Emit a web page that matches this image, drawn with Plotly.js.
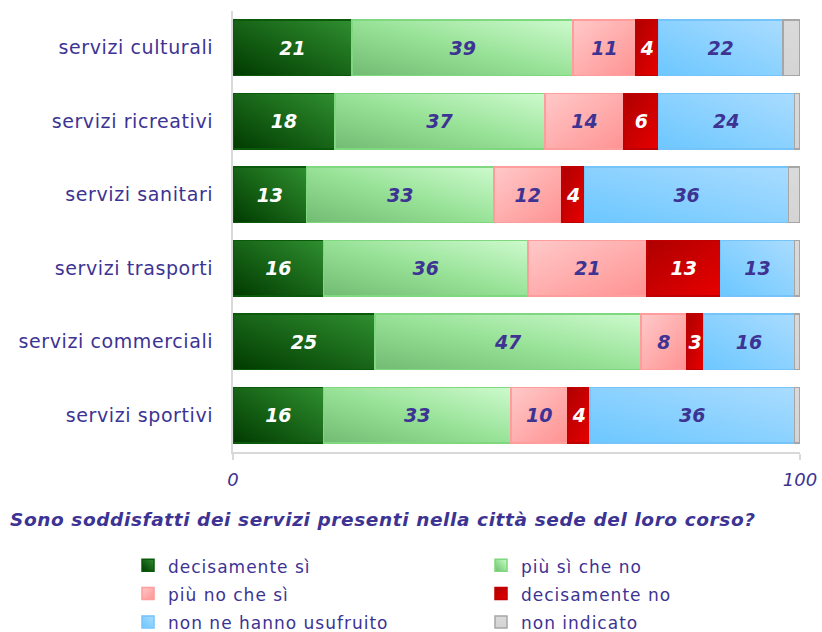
<!DOCTYPE html>
<html>
<head>
<meta charset="utf-8">
<script src="https://cdn.plot.ly/plotly-3.0.1.min.js"></script>
<style>
  html, body { margin: 0; padding: 0; background: #ffffff; }
  #chart { width: 822px; height: 632px; }
  #chart .ytick text { letter-spacing: 0.6px; }
  #chart .gtitle { letter-spacing: 0.6px; }
</style>
</head>
<body>
<!-- gradient fills for the bar segments and legend keys -->
<svg width="0" height="0" style="position:absolute">
  <defs>
    <linearGradient id="fill-0" x1="0" y1="1" x2="1" y2="0">
      <stop offset="0" stop-color="#003a00"/>
      <stop offset="1" stop-color="#2f8f2f"/>
    </linearGradient>
    <linearGradient id="fill-1" x1="0" y1="1" x2="1" y2="0">
      <stop offset="0" stop-color="#72bb72"/>
      <stop offset="0.5" stop-color="#98e298"/>
      <stop offset="1" stop-color="#cdfacd"/>
    </linearGradient>
    <linearGradient id="fill-2" x1="0" y1="0" x2="1" y2="1">
      <stop offset="0" stop-color="#ffc9c9"/>
      <stop offset="1" stop-color="#ff9292"/>
    </linearGradient>
    <linearGradient id="fill-3" x1="0" y1="0" x2="1" y2="1">
      <stop offset="0" stop-color="#ae0000"/>
      <stop offset="1" stop-color="#e80000"/>
    </linearGradient>
    <linearGradient id="fill-4" x1="1" y1="0" x2="0" y2="1">
      <stop offset="0" stop-color="#aadcff"/>
      <stop offset="1" stop-color="#6cc7ff"/>
    </linearGradient>
    <linearGradient id="fill-5" x1="0" y1="0" x2="0" y2="1">
      <stop offset="0" stop-color="#dadada"/>
      <stop offset="1" stop-color="#d4d4d4"/>
    </linearGradient>
  </defs>
</svg>
<div id="chart"></div>
<script>
// Services, top to bottom
const categories = [
  'servizi culturali',
  'servizi ricreativi',
  'servizi sanitari',
  'servizi trasporti',
  'servizi commerciali',
  'servizi sportivi'
];

// Percentages per answer
const decisamenteSi = [21, 18, 13, 16, 25, 16];
const piuSiCheNo    = [39, 37, 33, 36, 47, 33];
const piuNoCheSi    = [11, 14, 12, 21,  8, 10];
const decisamenteNo = [ 4,  6,  4, 13,  3,  4];
const nonUsufruito  = [22, 24, 36, 13, 16, 36];
const nonIndicato   = [ 3,  1,  2,  1,  1,  1];

const seriesNames = [
  'decisamente sì',
  'più sì che no',
  'più no che sì',
  'decisamente no',
  'non ne hanno usufruito',
  'non indicato'
];
const seriesValues = [decisamenteSi, piuSiCheNo, piuNoCheSi, decisamenteNo, nonUsufruito, nonIndicato];

const xTicks = [0, 100];

const PURPLE = '#3d3393';
const baseColors  = ['#15661a', '#98e098', '#ffaaaa', '#d00000', '#8ad2ff', '#d8d8d8'];
const lineColors  = ['#0b5a0b', '#7fd77f', '#ff9c9c', '#c00000', '#74c4fa', '#a6a6a6'];
const labelColors = ['#ffffff', PURPLE, PURPLE, '#ffffff', PURPLE, PURPLE];

// legend key in two columns: left column gets even series, right column odd
const traces = seriesValues.map((vals, i) => ({
  type: 'bar',
  orientation: 'h',
  name: seriesNames[i],
  legend: i % 2 === 0 ? 'legend' : 'legend2',
  y: categories,
  x: vals,
  text: i === 5 ? undefined : vals.map(String),
  texttemplate: i === 5 ? '' : '%{text}',
  textposition: i === 5 ? 'none' : 'inside',
  insidetextanchor: 'middle',
  constraintext: 'none',
  textangle: 0,
  insidetextfont: {
    family: 'DejaVu Sans',
    size: 19,
    weight: 'bold',
    style: 'italic',
    color: labelColors[i]
  },
  marker: {
    color: baseColors[i],
    line: { color: lineColors[i], width: 1.5 }
  },
  hoverinfo: 'skip'
}));

// the larger legend font sets the row pitch; the text is drawn at 17px afterwards
const legendBase = {
  orientation: 'v',
  traceorder: 'normal',
  xref: 'container', xanchor: 'left',
  yref: 'container', y: 1 - 546 / 632, yanchor: 'top',
  font: { family: 'DejaVu Sans', size: 19.5, color: PURPLE },
  bgcolor: 'rgba(0,0,0,0)',
  borderwidth: 0
};

const layout = {
  width: 822,
  height: 632,
  margin: { l: 233, r: 22, t: 11, b: 180, autoexpand: false },
  paper_bgcolor: '#ffffff',
  plot_bgcolor: '#ffffff',
  barmode: 'stack',
  bargap: 0.24,
  showlegend: true,
  title: {
    text: 'Sono soddisfatti dei servizi presenti nella città sede del loro corso?',
    font: { family: 'DejaVu Sans', size: 18.5, weight: 'bold', style: 'italic', color: PURPLE },
    xref: 'container', x: 10 / 822, xanchor: 'left',
    yref: 'container', y: 1 - 520 / 632, yanchor: 'middle'
  },
  xaxis: {
    range: [0, 100],
    tickvals: xTicks,
    ticktext: xTicks.map(String),
    ticks: 'outside',
    ticklen: 6,
    tickwidth: 2,
    tickcolor: '#d9d9d9',
    ticklabelstandoff: 4,
    showline: true,
    linecolor: '#d9d9d9',
    linewidth: 2,
    showgrid: false,
    zeroline: false,
    fixedrange: true,
    automargin: false,
    tickfont: { family: 'DejaVu Sans', size: 18, style: 'italic', color: PURPLE }
  },
  yaxis: {
    type: 'category',
    categoryorder: 'array',
    categoryarray: categories,
    autorange: 'reversed',
    ticks: '',
    ticklabelstandoff: 14,
    showline: true,
    linecolor: '#d9d9d9',
    linewidth: 2,
    showgrid: false,
    zeroline: false,
    fixedrange: true,
    automargin: false,
    tickfont: { family: 'DejaVu Sans', size: 19, color: PURPLE }
  },
  legend: Object.assign({}, legendBase, { x: 128 / 822 }),
  legend2: Object.assign({}, legendBase, { x: 481 / 822 })
};

// Swap the flat fills for the gradients defined above, and set the legend text size
function applyFills(gd) {
  gd.querySelectorAll('.barlayer .trace').forEach(t => {
    const d = t.__data__;
    if (!d || !d[0]) return;
    const idx = d[0].trace.index;
    t.querySelectorAll('path').forEach(p => { p.style.fill = 'url(#fill-' + idx + ')'; });
  });
  gd.querySelectorAll('g.traces').forEach(t => {
    const d = t.__data__;
    if (!d || !d[0] || !d[0].trace) return;
    const idx = d[0].trace.index;
    t.querySelectorAll('.legendpoints path').forEach(p => { p.style.fill = 'url(#fill-' + idx + ')'; });
    t.querySelectorAll('text').forEach(tx => {
      tx.style.fontSize = '17px';
      tx.style.letterSpacing = '1px';
    });
  });
}

const gd = document.getElementById('chart');
Plotly.newPlot(gd, traces, layout, { displayModeBar: false, staticPlot: true }).then(() => {
  applyFills(gd);
  gd.on && gd.on('plotly_afterplot', () => applyFills(gd));
});
</script>
</body>
</html>
